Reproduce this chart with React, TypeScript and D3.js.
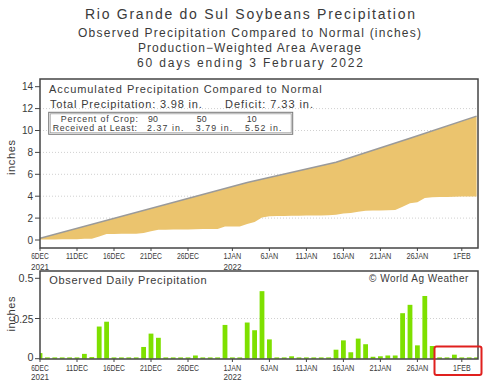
import React from 'react';
import * as d3 from 'd3';

// ---- data ----
const dailyPrecip = [
  0.035, 0.008, 0.008, 0.008, 0.008, 0.008, 0.03, 0.01, 0.2, 0.23,
  0.008, 0.008, 0.008, 0.008, 0.073, 0.156, 0.13, 0.008, 0.008, 0.008,
  0.008, 0.02, 0.008, 0.008, 0.008, 0.21, 0.008, 0.008, 0.225, 0.177,
  0.42, 0.12, 0.008, 0.008, 0.015, 0.008, 0.008, 0.008, 0.008, 0.008,
  0.056, 0.114, 0.04, 0.125, 0.09, 0.012, 0.015, 0.02, 0.02, 0.283,
  0.335, 0.083, 0.39, 0.079, 0.008, 0.008, 0.025, 0.008, 0.008, 0.008,
];
const normalDays = [0, 28, 40, 50, 59];
const normalAccum = [0.15, 5.25, 7.1, 9.3, 11.31];
const tickDays = [0, 5, 10, 15, 20, 26, 31, 36, 41, 46, 51, 57];
const tickLabels = ['6DEC', '11DEC', '16DEC', '21DEC', '26DEC', '1JAN', '6JAN', '11JAN', '16JAN', '21JAN', '26JAN', '1FEB'];
const yearDays = [0, 26];
const yearLabels = ['2021', '2022'];
const topYTicks = [0, 2, 4, 6, 8, 10, 12, 14];
const topGrid = [2, 4, 6, 8, 10, 12];
const botYTicks = [0, 0.25, 0.5];
const botYLabels = ['0', '0.25', '0.5'];
const percentCrop = ['90', '50', '10'];
const receivedAtLeast = ['2.37 in.', '3.79 in.', '5.52 in.'];
const totalPrecip = '3.98';
const deficit = '7.33';
const titleLines = [
  'Rio Grande do Sul Soybeans Precipitation',
  'Observed Precipitation Compared to Normal (inches)',
  'Production\u2212Weighted Area Average',
  '60 days ending 3 February 2022',
];

const FONT = 'Liberation Sans, Arial, sans-serif';
const TXT = '#3a3a3a';

export default function App() {
  const x = d3.scaleLinear().domain([0, 59]).range([40, 476.6]);
  const yTop = d3.scaleLinear().domain([0, 14]).range([240, 86.7]);
  const yBot = d3.scaleLinear().domain([0, 0.5]).range([358.7, 278.3]);

  const cum = d3.cumsum(dailyPrecip);
  const obsPts: [number, number][] = Array.from(cum, (v, i) => [x(i), yTop(v)]);
  const normPts: [number, number][] = normalDays.map((d, i) => [x(d), yTop(normalAccum[i])]);
  const poly = d3.line()([...normPts, ...obsPts.slice().reverse()]) + 'Z';
  const normLine = d3.line()(normPts) || '';

  const barW = 4.8;

  const titleGeom = [
    { x: 85, w: 330, y: 13.5, fs: 14 },
    { x: 78, w: 343, y: 33, fs: 12 },
    { x: 138, w: 223, y: 48, fs: 12 },
    { x: 137, w: 226, y: 63, fs: 12 },
  ];

  const xLabels = (yLab: number, yYear: number) => (
    <g>
      {tickDays.map((d, i) => (
        <text key={'t' + i} x={x(d)} y={yLab} textAnchor="middle" dominantBaseline="central" fontSize={9.5}
          textLength={tickLabels[i].length * 4.4} lengthAdjust="spacingAndGlyphs" fill={TXT}>{tickLabels[i]}</text>
      ))}
      {yearDays.map((d, i) => (
        <text key={'y' + i} x={x(d)} y={yYear} textAnchor="middle" dominantBaseline="central" fontSize={9.5}
          textLength={18} lengthAdjust="spacingAndGlyphs" fill={TXT}>{yearLabels[i]}</text>
      ))}
    </g>
  );

  return (
    <svg width={500} height={383} style={{ position: 'absolute', left: 0, top: 0, background: '#fff' }}
      fontFamily={FONT}>
      <defs>
        <clipPath id="clipTop"><rect x={40} y={79} width={438} height={169} /></clipPath>
        <clipPath id="clipBot"><rect x={40} y={271} width={438} height={88} /></clipPath>
      </defs>
      <rect x={0} y={0} width={500} height={383} fill="#fff" />

      {/* titles */}
      {titleLines.map((t, i) => (
        <text key={i} x={titleGeom[i].x} y={titleGeom[i].y} dominantBaseline="central" fontSize={titleGeom[i].fs}
          textLength={titleGeom[i].w} lengthAdjust="spacing" fill={TXT}>{t}</text>
      ))}

      {/* ---- top panel ---- */}
      <g clipPath="url(#clipTop)">
        {topGrid.map((v) => (
          <line key={v} x1={40} x2={478} y1={yTop(v)} y2={yTop(v)} stroke="#d0d0d0" strokeWidth={1} strokeDasharray="1,2" />
        ))}
        <path d={poly} fill="#EBC46E" stroke="none" />
        <path d={normLine} fill="none" stroke="#9a9a9a" strokeWidth={1.5} />
      </g>
      <rect x={40} y={79} width={438} height={169} fill="none" stroke="#444" strokeWidth={1.5} />
      {topYTicks.map((v) => (
        <g key={v}>
          <line x1={35} x2={40} y1={yTop(v)} y2={yTop(v)} stroke="#444" strokeWidth={1} />
          <text x={33} y={yTop(v)} textAnchor="end" dominantBaseline="central" fontSize={10} fill={TXT}>{v}</text>
        </g>
      ))}
      {tickDays.map((d) => (
        <line key={d} x1={x(d)} x2={x(d)} y1={248} y2={251} stroke="#444" strokeWidth={1} />
      ))}
      {xLabels(255.5, 266)}
      <text transform="translate(11,157.5) rotate(-90)" textAnchor="middle" dominantBaseline="central" fontSize={11}
        textLength={35} lengthAdjust="spacing" fill={TXT}>inches</text>

      <text x={49} y={89} dominantBaseline="central" fontSize={11} textLength={272.7} lengthAdjust="spacing" fill={TXT}>
        Accumulated Precipitation Compared to Normal
      </text>
      <text x={50} y={104} dominantBaseline="central" fontSize={11} textLength={151.7} lengthAdjust="spacing" fill={TXT}>
        {`Total Precipitation: ${totalPrecip} in.`}
      </text>
      <text x={225} y={104} dominantBaseline="central" fontSize={11} textLength={88} lengthAdjust="spacing" fill={TXT}>
        {`Deficit: ${deficit} in.`}
      </text>

      <rect x={48.7} y={112.3} width={244} height={22} fill="#fff" stroke="#777" strokeWidth={1} />
      <rect x={50.2} y={113.8} width={241} height={19} fill="none" stroke="#999" strokeWidth={0.8} />
      <text x={60.7} y={119.3} dominantBaseline="central" fontSize={8.8} textLength={77.3} lengthAdjust="spacing" fill={TXT}>Percent of Crop:</text>
      <text x={52.7} y={128} dominantBaseline="central" fontSize={8.8} textLength={84.3} lengthAdjust="spacing" fill={TXT}>Received at Least:</text>
      {percentCrop.map((p, i) => (
        <text key={'p' + i} x={[148, 196.7, 246.7][i]} y={119.3} dominantBaseline="central" fontSize={8.8}
          textLength={10} lengthAdjust="spacing" fill={TXT}>{p}</text>
      ))}
      {receivedAtLeast.map((r, i) => (
        <text key={'r' + i} x={[147, 195.7, 245][i]} y={128} dominantBaseline="central" fontSize={8.8}
          textLength={36.5} lengthAdjust="spacing" fill={TXT}>{r}</text>
      ))}

      {/* ---- bottom panel ---- */}
      <g clipPath="url(#clipBot)">
        <line x1={40} x2={478} y1={yBot(0.25)} y2={yBot(0.25)} stroke="#d0d0d0" strokeWidth={1} strokeDasharray="1,2" />
        {dailyPrecip.map((v, i) => (
          <rect key={i} x={x(i) - barW / 2} y={yBot(v)} width={barW} height={yBot(0) - yBot(v)} fill="#7EE000" />
        ))}
      </g>
      <rect x={40} y={271} width={438} height={88} fill="none" stroke="#444" strokeWidth={1.5} />
      {botYTicks.map((v, i) => (
        <g key={v}>
          <line x1={35} x2={40} y1={yBot(v)} y2={yBot(v)} stroke="#444" strokeWidth={1} />
          <text x={33.5} y={yBot(v) - (v === 0 ? 1.5 : 0)} textAnchor="end" dominantBaseline="central" fontSize={11}
            textLength={botYLabels[i].length === 1 ? 6 : botYLabels[i].length * 5} lengthAdjust="spacingAndGlyphs" fill={TXT}>{botYLabels[i]}</text>
        </g>
      ))}
      {tickDays.map((d) => (
        <line key={d} x1={x(d)} x2={x(d)} y1={359} y2={362} stroke="#444" strokeWidth={1} />
      ))}
      {xLabels(367, 376.5)}
      <text transform="translate(10.5,314) rotate(-90)" textAnchor="middle" dominantBaseline="central" fontSize={11}
        textLength={35} lengthAdjust="spacing" fill={TXT}>inches</text>
      <text x={49.3} y={279.5} dominantBaseline="central" fontSize={11} textLength={157.4} lengthAdjust="spacing" fill={TXT}>
        Observed Daily Precipitation
      </text>
      <text x={369} y={278.5} dominantBaseline="central" fontSize={10} textLength={99.3} lengthAdjust="spacing" fill={TXT}>
        © World Ag Weather
      </text>

      {/* red highlight annotation */}
      <rect x={434.5} y={346.5} width={47} height={28.5} rx={2} fill="none" stroke="#E0201E" strokeWidth={2} />
    </svg>
  );
}
